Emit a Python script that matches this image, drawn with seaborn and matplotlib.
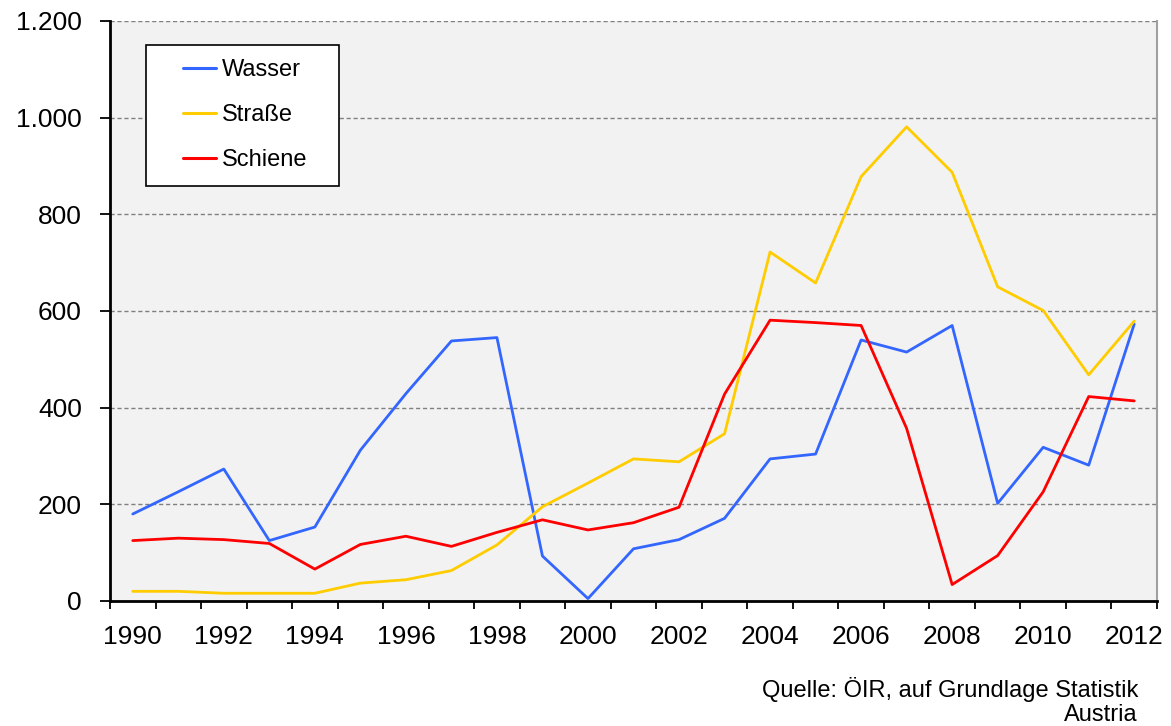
import numpy as np
import pandas as pd
import matplotlib
matplotlib.use("Agg")
import matplotlib.pyplot as plt
import seaborn as sns
from matplotlib.ticker import FuncFormatter, FixedLocator
from matplotlib.legend_handler import HandlerLine2D
from matplotlib.lines import Line2D

years = list(range(1990, 2013))
wasser = [180, 226, 273, 125, 153, 312, 429, 538, 545, 93, 5, 108, 127, 171,
          294, 304, 540, 515, 570, 202, 318, 281, 573]
strasse = [20, 20, 16, 16, 16, 37, 44, 63, 116, 195, 244, 294, 288, 346,
           722, 658, 878, 981, 887, 650, 601, 468, 579]
schiene = [125, 130, 127, 119, 66, 117, 134, 113, 142, 168, 147, 162, 194, 428,
           581, 576, 570, 357, 34, 94, 226, 423, 414]
series_names = ["Wasser", "Straße", "Schiene"]
colors = ["#3366FF", "#FFCC00", "#FF0000"]
y_ticks = [0, 200, 400, 600, 800, 1000, 1200]
x_label_years = list(range(1990, 2013, 2))
source_text = "Quelle: ÖIR, auf Grundlage Statistik\nAustria"

df = pd.DataFrame({
    "Jahr": years * 3,
    "Wert": wasser + strasse + schiene,
    "Serie": [series_names[0]] * len(years) + [series_names[1]] * len(years) + [series_names[2]] * len(years),
})

sns.set_theme(style="white")
plt.rcParams["font.family"] = ["Liberation Sans", "DejaVu Sans"]
plt.rcParams["text.color"] = "black"

fig = plt.figure(figsize=(11.71, 7.26), dpi=100)
ax = fig.add_axes([110 / 1171, 1 - 601 / 726, 1047 / 1171, 580 / 726])
ax.set_facecolor("#F2F2F2")

sns.lineplot(data=df, x="Jahr", y="Wert", hue="Serie", hue_order=series_names,
             palette=colors, linewidth=2.0, ax=ax, legend=False)

ax.set_xlim(years[0] - 0.5, years[-1] + 0.5)
ax.set_ylim(0, 1200)

ax.yaxis.set_major_locator(FixedLocator(y_ticks))
ax.yaxis.set_major_formatter(FuncFormatter(lambda v, p: f"{v:,.0f}".replace(",", ".")))
ax.yaxis.grid(True, linestyle=(0, (3, 2)), color="#808080", linewidth=1.0)
ax.set_axisbelow(True)

ax.set_xticks([y - 0.5 for y in years] + [years[-1] + 0.5])
ax.set_xticklabels([])
ax.set_xticks(x_label_years, minor=True)
ax.set_xticklabels([str(y) for y in x_label_years], minor=True)

ax.tick_params(axis="x", which="major", direction="out", length=6, width=1.3, color="black", bottom=True)
ax.tick_params(axis="x", which="minor", length=0, pad=17, labelsize=19, colors="black", bottom=True)
ax.tick_params(axis="y", which="major", direction="out", length=7.2, width=1.3, color="black",
               labelsize=19, labelcolor="black", left=True, pad=13)

ax.set_xlabel("")
ax.set_ylabel("")

for side in ["left", "bottom"]:
    ax.spines[side].set_color("black")
    ax.spines[side].set_linewidth(2.0)
ax.spines["right"].set_color("#A0A0A0")
ax.spines["right"].set_linewidth(1.5)
ax.spines["top"].set_visible(False)

handles = [Line2D([], [], color=c, linewidth=2.2) for c in colors]
leg_h = 139 / 580
leg = ax.legend(handles, series_names, loc="upper left",
                bbox_to_anchor=(36 / 1047, 1 - 24 / 580 - leg_h, 193 / 1047, leg_h),
                mode="expand", borderaxespad=0, frameon=True, fancybox=False, shadow=False,
                fontsize=17, handlelength=2.36, handletextpad=0.25, labelspacing=0.98,
                borderpad=0.6, labelcolor="black",
                handler_map={Line2D: HandlerLine2D(xpad=0.97)})
leg.get_frame().set_edgecolor("black")
leg.get_frame().set_linewidth(1.2)
leg.get_frame().set_facecolor("white")
leg.get_frame().set_alpha(1)

fig.text(1138 / 1171, 0.0, source_text, ha="right", va="bottom", fontsize=17,
         color="black", multialignment="right", linespacing=1.1)

fig.savefig("out.png", dpi=100, facecolor="white")
